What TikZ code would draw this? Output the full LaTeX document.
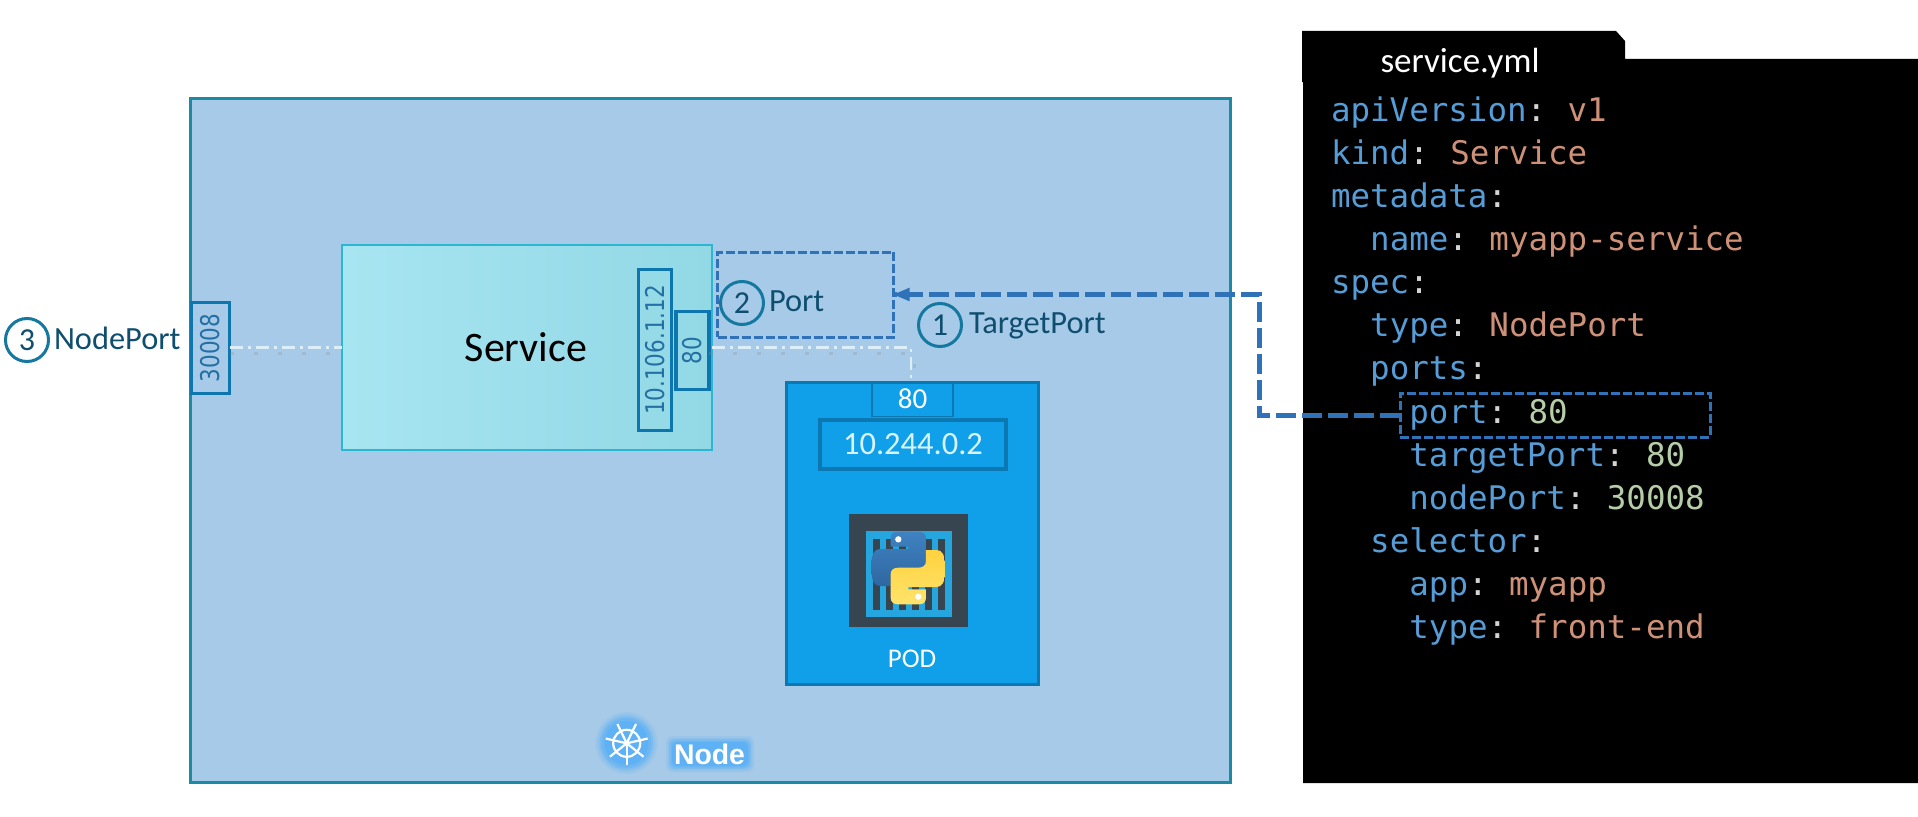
\documentclass[tikz,border=0pt]{standalone}
\usepackage{fontspec}
\usepackage{graphicx}
\setmainfont{Carlito}
\newfontfamily\verafont{DejaVu Sans}
\newfontfamily\monofont{DejaVu Sans Mono}
\newfontfamily\boldfont{Liberation Sans}[BoldFont={Liberation Sans Bold}]
\usetikzlibrary{arrows.meta}
\definecolor{nodefill}{HTML}{A6CAE8}
\definecolor{nodeedge}{HTML}{1B8AA2}
\definecolor{portedge}{HTML}{0E76AE}
\definecolor{porttext}{HTML}{2470A4}
\definecolor{svcedge}{HTML}{2BB6D2}
\definecolor{svcA}{HTML}{A7E5F1}
\definecolor{svcB}{HTML}{92D8E5}
\definecolor{podfill}{HTML}{10A0EA}
\definecolor{podedge}{HTML}{0B78B2}
\definecolor{dashblue}{HTML}{2F72B8}
\definecolor{labeltext}{HTML}{0F4E6E}
\definecolor{circedge}{HTML}{15789F}
\definecolor{iconbg}{HTML}{36454F}
\definecolor{iconfill}{HTML}{26A6DE}
\definecolor{glow}{HTML}{5AB0F5}
\definecolor{ykey}{HTML}{569CD6}
\definecolor{ystr}{HTML}{CE9178}
\definecolor{ynum}{HTML}{B5CEA8}
\definecolor{ycol}{HTML}{D4D4D4}
\definecolor{flow}{HTML}{DCEFF8}
\definecolor{pyblueA}{HTML}{3F82C2}
\definecolor{pyblueB}{HTML}{2F67A0}
\definecolor{pyyellowA}{HTML}{FFE36A}
\definecolor{pyyellowB}{HTML}{FFD23F}
\newcommand{\fs}[1]{\fontsize{#1}{#1}\selectfont}
\newcommand{\ky}[1]{\textcolor{ykey}{#1}\textcolor{ycol}{:}\kern21.4pt\relax}
\newcommand{\vs}[1]{\textcolor{ystr}{#1}}
\newcommand{\vn}[1]{\textcolor{ynum}{#1}}
\newcommand{\rottext}[1]{\rotatebox{90}{\scalebox{1}[1.2]{\verafont\fs{21.5}#1}}}
\tikzset{
  box/.style={inner sep=0pt,outer sep=0pt},
  portbox/.style={box,draw=portedge,line width=3.5pt,text=porttext},
  lbl/.style={box,anchor=base west,text=labeltext,font=\fs{32.4}},
  numcirc/.style={box,circle,draw=circedge,line width=3pt,minimum size=43pt,text=labeltext,font=\fs{32}},
  codeline/.style={box,anchor=base west,font=\monofont\fs{32.5}},
  flowline/.style={draw=flow,line width=2.6pt,dash pattern=on 13pt off 5pt on 3pt off 5pt},
  flowshadow/.style={draw=black!45,opacity=.25,line width=3pt,dash pattern=on 4pt off 20pt},
  dashbox/.style={box,draw=dashblue,line width=3pt,dash pattern=on 9pt off 3pt},
  refline/.style={draw=dashblue,line width=5pt,dash pattern=on 20pt off 6pt},
}
\begin{document}
\begin{tikzpicture}[x=1pt,y=-1pt]
\useasboundingbox (0,0) rectangle (1918,816);
\fill[white] (0,0) rectangle (1918,816);

% Kubernetes node
\node[box,draw=nodeedge,fill=nodefill,line width=3pt,minimum width=1040pt,minimum height=684pt] (node) at (710,440) {};

% YAML panel
\fill[black] (1302,31) -- (1616,31) -- (1625,41) -- (1625,59) -- (1918,59) -- (1918,783) -- (1303,783) -- (1303,82) -- (1302,82) -- cycle;
\node[box,text=white,font=\fs{35},anchor=base] (tab) at (1460,73) {service.yml};
\node[codeline] (y1) at (1331,121.3) {\ky{apiVersion}\vs{v1}};
\node[codeline] (y2) at (1331,164.4) {\ky{kind}\vs{Service}};
\node[codeline] (y3) at (1331,207.5) {\textcolor{ykey}{metadata}\textcolor{ycol}{:}};
\node[codeline] (y4) at (1370.2,250.6) {\ky{name}\vs{myapp-service}};
\node[codeline] (y5) at (1331,293.7) {\textcolor{ykey}{spec}\textcolor{ycol}{:}};
\node[codeline] (y6) at (1370.2,336.8) {\ky{type}\vs{NodePort}};
\node[codeline] (y7) at (1370.2,379.9) {\textcolor{ykey}{ports}\textcolor{ycol}{:}};
\node[codeline] (y8) at (1409.4,423) {\ky{port}\vn{80}};
\node[codeline] (y9) at (1409.4,466.1) {\ky{targetPort}\vn{80}};
\node[codeline] (y10) at (1409.4,509.2) {\ky{nodePort}\vn{30008}};
\node[codeline] (y11) at (1370.2,552.3) {\textcolor{ykey}{selector}\textcolor{ycol}{:}};
\node[codeline] (y12) at (1409.4,595.4) {\ky{app}\vs{myapp}};
\node[codeline] (y13) at (1409.4,638.5) {\ky{type}\vs{front-end}};
\node[dashbox,minimum width=310pt,minimum height=44pt] (yport) at (1555.2,415) {};

% Service
\node[box,draw=svcedge,line width=2.5pt,left color=svcA,right color=svcB,minimum width=370pt,minimum height=205pt] (svc) at (527,347.5) {};
\node[box,anchor=base,text=black,font=\fs{42}] (svclabel) at (526,361) {Service};
\node[portbox,minimum width=33pt,minimum height=161pt] (svcip) at (655,350) {\rottext{10.106.1.12}};
\node[portbox,minimum width=33pt,minimum height=78pt] (svcport) at (692.5,350.5) {\rottext{80}};

% NodePort
\node[portbox,minimum width=38pt,minimum height=91pt,fill=nodefill] (nport) at (210.5,348) {\rottext{30008}};
\node[numcirc] (c3) at (27,340) {3};
\node[lbl] (t3) at (54,349) {NodePort};

% Port marker
\node[dashbox,minimum width=176pt,minimum height=85pt] (pbox) at (805.5,294.5) {};
\node[numcirc] (c2) at (742,303) {2};
\node[lbl] (t2) at (769,311) {Port};
\node[numcirc] (c1) at (940,325) {1};
\node[lbl] (t1) at (969,333) {TargetPort};

% POD
\node[box,draw=podedge,fill=podfill,line width=3pt,minimum width=252pt,minimum height=302pt] (pod) at (912,533) {};
\node[box,draw=podedge,line width=1.5pt,minimum width=81pt,minimum height=35pt,text=white,font=\fs{29}] (podport) at (912.5,399) {80};
\node[box,draw=podedge,fill=podfill,line width=4pt,minimum width=186pt,minimum height=49pt,text=white!85!cyan,font=\fs{32.5}] (podip) at (913,444.5) {10.244.0.2};
\node[box,anchor=base,text=white,font=\fs{27}] (podlabel) at (912,667.7) {POD};

% Container icon with Python logo
\fill[iconbg] (849,514) rectangle (968,627);
\fill[iconfill] (866,531) rectangle (952,617);
\foreach \bx in {873,886,899,912,925,938}{\fill[iconbg] (\bx,538.5) rectangle ++(7,71);}
\begin{scope}[shift={(908.3,568)},x=.3333pt,y=-.3333pt]
  \path[draw=none,top color=pyblueA,bottom color=pyblueB]
    (-53,-89) .. controls (-53,-104) and (-44,-109) .. (-30,-109) -- (30,-109) .. controls (44,-109) and (53,-102) .. (53,-89) -- (53,-19) .. controls (53,-6) and (44,1) .. (30,1) -- (-30,1) .. controls (-44,1) and (-53,8) .. (-53,21) -- (-53,54) -- (-85,54) .. controls (-102,54) and (-110,36) .. (-110,16) -- (-110,-19) .. controls (-110,-42) and (-100,-57) .. (-85,-57) -- (0,-57) -- (0,-64) -- (-53,-64) -- cycle;
  \fill[white] (-30,-86) circle (9.5);
\end{scope}
\begin{scope}[shift={(908.3,568)},x=.3333pt,y=-.3333pt,rotate=180]
  \path[draw=none,bottom color=pyyellowA,top color=pyyellowB]
    (-53,-89) .. controls (-53,-104) and (-44,-109) .. (-30,-109) -- (30,-109) .. controls (44,-109) and (53,-102) .. (53,-89) -- (53,-19) .. controls (53,-6) and (44,1) .. (30,1) -- (-30,1) .. controls (-44,1) and (-53,8) .. (-53,21) -- (-53,54) -- (-85,54) .. controls (-102,54) and (-110,36) .. (-110,16) -- (-110,-19) .. controls (-110,-42) and (-100,-57) .. (-85,-57) -- (0,-57) -- (0,-64) -- (-53,-64) -- cycle;
  \fill[white] (-30,-86) circle (9.5);
\end{scope}

% Node label with glow
\foreach \r/\o in {31/.12,29/.18,27/.3,25/.45,22/.8}{\fill[glow,opacity=\o] (626.5,743) circle (\r);}
\foreach \g/\o in {5/.12,3.5/.18,2/.3,.5/.45,-1/.8}{\fill[glow,opacity=\o,rounded corners=6pt] (671-\g,741-\g) rectangle (749+\g,767+\g);}
\begin{scope}[shift={(626.7,743.3)},draw=white,line width=2.2pt]
  \draw (0,0) circle (13.5);
  \foreach \a in {0,51.43,102.86,154.29,205.71,257.14,308.57}{
    \draw[rotate=\a] (0,2.5) -- (0,21.5);
  }
  \fill[white] (0,0) circle (3);
\end{scope}
\node[box,anchor=base,text=white,font=\boldfont\bfseries\fs{28.4}] (nodelabel) at (709.5,764) {Node};

% Traffic path
\coordinate (bendA) at (911,347.5);
\draw[flowshadow] (nport.east |- 0,353) -- (svc.west |- 0,353);
\draw[flowshadow] (svcport.east |- 0,353) -- (914,353) -- (914,378);
\draw[flowline] (nport.east |- svc.center) -- (svc.west);
\draw[flowline] (svc.east) -- (bendA) -- (podport.north -| bendA);

% Reference from YAML to Port
\coordinate (refA) at (1259,415);
\coordinate (refB) at (1259,294.5);
\draw[refline] (yport.west) -- (refA) -- (refB) -- (pbox.east);
\fill[dashblue] (pbox.east) -- ++(16,-6.8) -- ++(0,13.6) -- cycle;
\end{tikzpicture}
\end{document}
